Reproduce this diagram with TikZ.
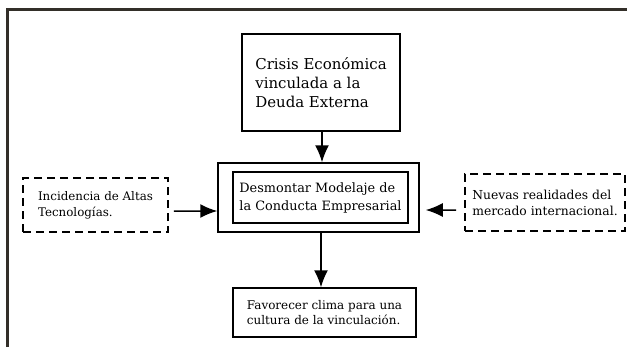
\documentclass[tikz,border=0pt]{standalone}
\usepackage{fontspec}
\setmainfont{DejaVu Serif}
\usepackage{tikz}
\usetikzlibrary{arrows.meta}

\begin{document}
\begin{tikzpicture}[x=1bp, y=-1bp]
  \tikzstyle{solidbox}=[draw, line width=1.5bp, inner sep=0pt, align=left]
  \tikzstyle{dashbox}=[draw, line width=1.7bp, dash pattern=on 8bp off 5bp, inner sep=0pt, align=left]
  \tikzstyle{arr}=[line width=1.5bp, -{Latex[length=17bp, width=14bp]}]
  \useasboundingbox (0,0) rectangle (627,347);

  % frame of the page
  \draw[line width=3bp, black!85!olive] (7,347) -- (7,9) -- (627,9);

  % top cause
  \node (crisis) at (321,82.5) [solidbox, minimum width=158bp, minimum height=97bp,
    font=\fontsize{15}{19.2}\selectfont] {Crisis Económica\\vinculada a la\\Deuda Externa};

  % central box, drawn twice
  \node (modelo) at (318.5,197.5) [solidbox, minimum width=201bp, minimum height=69bp] {};
  \node (modeloin) at (320.5,197.5) [solidbox, minimum width=175bp, minimum height=51bp,
    font=\fontsize{12.9}{18}\selectfont] {Desmontar Modelaje de\\la Conducta Empresarial};

  % side influences
  \node (altas) at (95.5,205) [dashbox, minimum width=145bp, minimum height=54bp,
    font=\fontsize{11.9}{16}\selectfont] {Incidencia de Altas\\Tecnologías.};
  \node (mercado) at (545,202.5) [dashbox, minimum width=160bp, minimum height=57bp,
    font=\fontsize{12.4}{16}\selectfont] {Nuevas realidades del\\mercado internacional.};

  % result
  \node (favorecer) at (324.5,312.5) [solidbox, minimum width=183bp, minimum height=49bp,
    font=\fontsize{12}{15.5}\selectfont] {Favorecer clima para una\\cultura de la vinculación.};

  % connections
  \draw[arr] ([xshift=1bp]crisis.south) -- ([xshift=1bp]crisis.south |- modelo.north);
  \draw[arr] ([xshift=5bp, yshift=-6bp]altas.east) -- ([yshift=-13.5bp]modelo.west);
  \draw[arr] ([xshift=-8bp, yshift=-7.5bp]mercado.west) -- ([xshift=6bp, yshift=-12.5bp]modelo.east);
  \draw[arr] ([xshift=2.5bp]modelo.south) -- ([xshift=2.5bp]modelo.south |- favorecer.north);
\end{tikzpicture}
\end{document}
